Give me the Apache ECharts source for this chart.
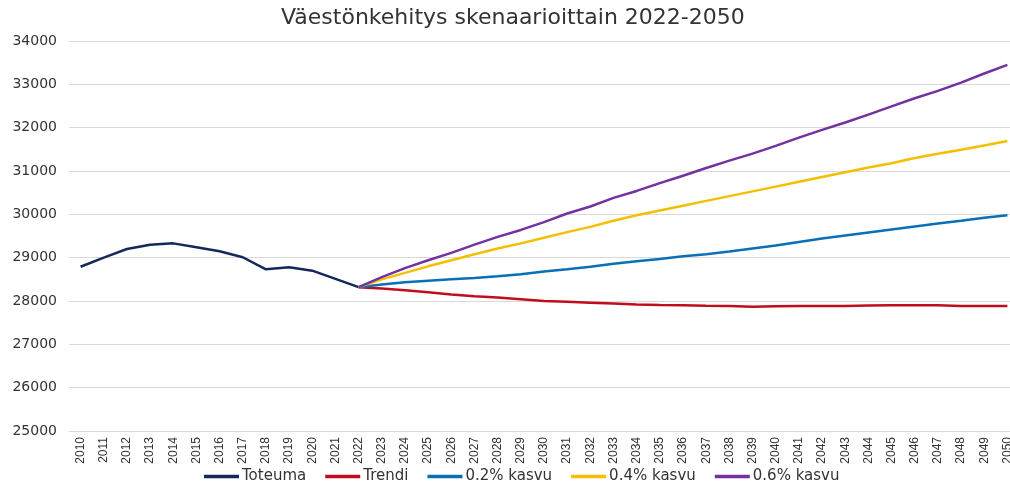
<!DOCTYPE html>
<html><head><meta charset="utf-8">
<script src="https://cdn.jsdelivr.net/npm/echarts@6/dist/echarts.min.js"></script>
<style>html,body{margin:0;padding:0;background:#fff}#c{width:1010px;height:483px}</style>
</head><body><div id="c"></div>
<script>
const years = [];
for (let y = 2010; y <= 2050; y++) years.push(String(y));
const yTicks = [25000, 26000, 27000, 28000, 29000, 30000, 31000, 32000, 33000, 34000];
const toteuma = [28790, 29000, 29200, 29300, 29330, 29240, 29150, 29010, 28730, 28780, 28700, 28510, 28320];
const trendi = [28320, 28290, 28250, 28200, 28150, 28110, 28080, 28040, 28000, 27980, 27960, 27940, 27920, 27905, 27900, 27890, 27885, 27865, 27880, 27885, 27885, 27885, 27895, 27900, 27900, 27900, 27885, 27885, 27885];
const kasvu02 = [28320, 28380, 28430, 28470, 28500, 28530, 28570, 28620, 28680, 28730, 28790, 28860, 28920, 28970, 29030, 29080, 29140, 29210, 29280, 29360, 29440, 29510, 29580, 29650, 29720, 29790, 29850, 29920, 29980];
const kasvu04 = [28320, 28500, 28650, 28800, 28940, 29080, 29210, 29330, 29460, 29590, 29710, 29850, 29980, 30090, 30200, 30310, 30420, 30530, 30640, 30750, 30860, 30970, 31080, 31180, 31300, 31400, 31490, 31590, 31690];
const kasvu06 = [28320, 28550, 28760, 28940, 29110, 29300, 29480, 29640, 29820, 30020, 30180, 30380, 30540, 30720, 30890, 31070, 31240, 31400, 31580, 31770, 31950, 32120, 32300, 32490, 32680, 32850, 33040, 33250, 33450];

const pad = n => new Array(n).fill(null);
const startIdx = years.indexOf('2022');
const full = (arr, offset) => pad(offset).concat(arr).concat(pad(years.length - offset - arr.length));

const font = 'DejaVu Sans';
const chart = echarts.init(document.getElementById('c'));
const mk = (name, data, color) => ({
  name, type: 'line', data, showSymbol: false, symbol: 'none', connectNulls: false,
  lineStyle: { color, width: 2.5 }, itemStyle: { color }
});
chart.setOption({
  animation: false,
  title: { text: 'Väestönkehitys skenaarioittain 2022-2050', left: 281, top: 7, padding: 0,
    textStyle: { fontFamily: font, fontSize: 22, fontWeight: 'normal', color: '#333' } },
  legend: { top: 469, left: 204, icon: 'rect', itemWidth: 35, itemHeight: 3.5, itemGap: 19, padding: 0,
    textStyle: { fontFamily: font, fontSize: 15, color: '#333', padding: [0, 0, 0, -2] },
    data: ['Toteuma', 'Trendi', '0.2% kasvu', '0.4% kasvu', '0.6% kasvu'] },
  grid: { left: 69, top: 41, width: 950, height: 390, containLabel: false, outerBoundsMode: 'none' },
  xAxis: { type: 'category', data: years, boundaryGap: true,
    axisLine: { show: true, lineStyle: { color: '#d9d9d9' } }, axisTick: { show: false },
    axisLabel: { rotate: 90, interval: 0, fontFamily: 'Liberation Sans Narrow, Liberation Sans', fontSize: 12, color: '#333', margin: 6 } },
  yAxis: { type: 'value', min: yTicks[0], max: yTicks[yTicks.length - 1], interval: 1000,
    axisLine: { show: false }, axisTick: { show: false },
    splitLine: { lineStyle: { color: '#d9d9d9' } },
    axisLabel: { fontFamily: font, fontSize: 14, color: '#333', margin: 12, formatter: v => String(v) } },
  series: [
    mk('Toteuma', full(toteuma, 0), '#14285a'),
    mk('Trendi', full(trendi, startIdx), '#c00d1e'),
    mk('0.2% kasvu', full(kasvu02, startIdx), '#0b6fb6'),
    mk('0.4% kasvu', full(kasvu04, startIdx), '#f5bf00'),
    mk('0.6% kasvu', full(kasvu06, startIdx), '#7332a0')
  ]
});
</script></body></html>
